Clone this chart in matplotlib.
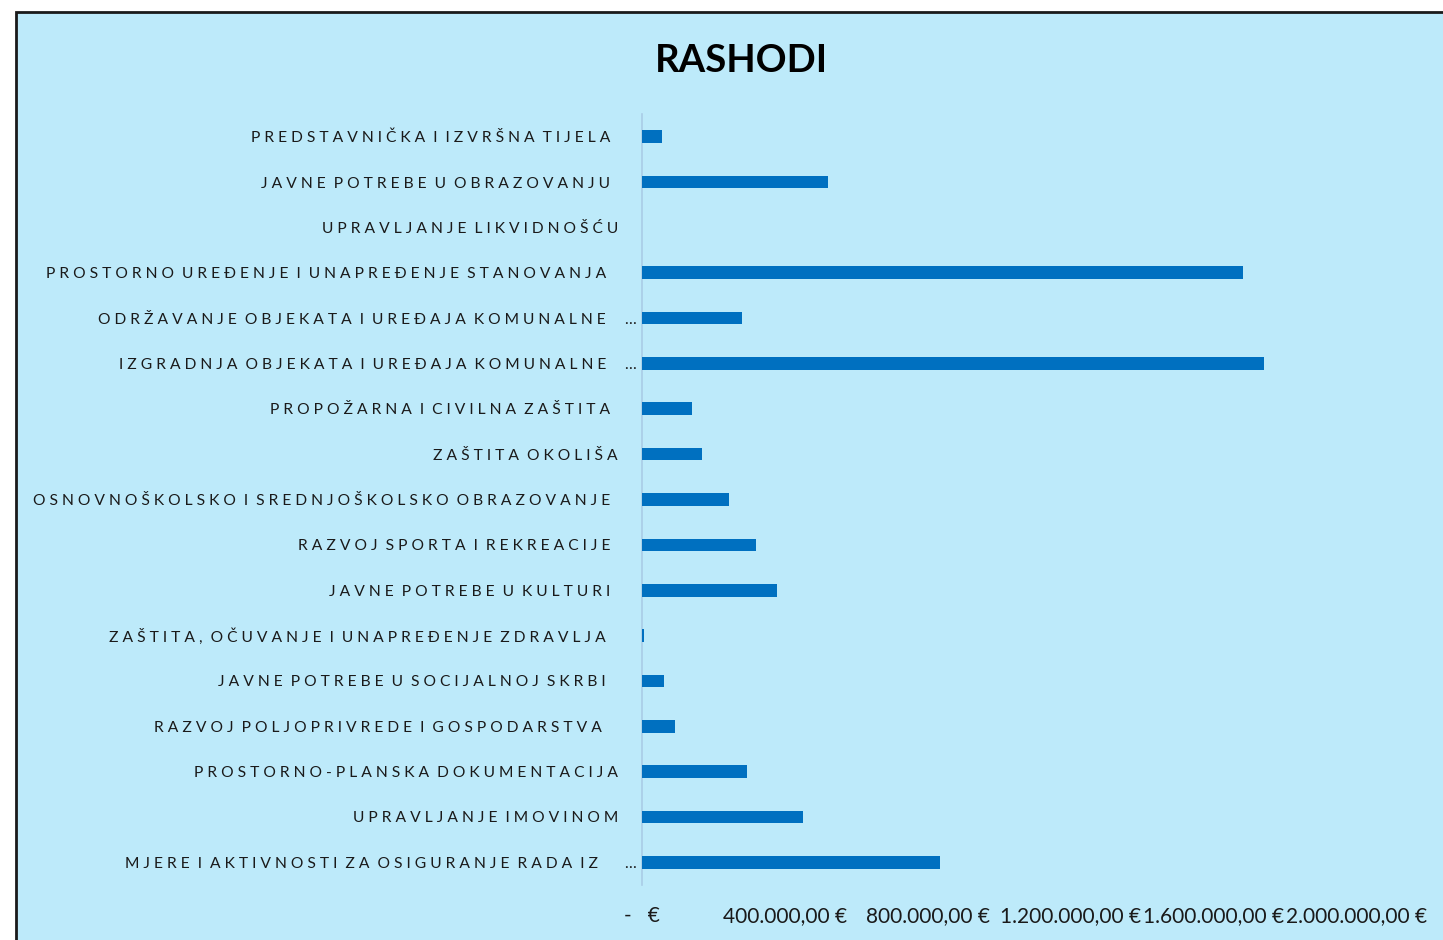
import matplotlib
matplotlib.use("Agg")
import matplotlib.pyplot as plt
import matplotlib.transforms as mtrans
from matplotlib.patches import Rectangle
from matplotlib.ticker import FuncFormatter, FixedLocator

plt.rcParams['font.family'] = ['Lato', 'DejaVu Sans']

title = "RASHODI"
categories = [
    "PREDSTAVNIČKA I IZVRŠNA TIJELA",
    "JAVNE POTREBE U OBRAZOVANJU",
    "UPRAVLJANJE LIKVIDNOŠĆU",
    "PROSTORNO UREĐENJE I UNAPREĐENJE STANOVANJA",
    "ODRŽAVANJE OBJEKATA I UREĐAJA KOMUNALNE …",
    "IZGRADNJA OBJEKATA I UREĐAJA KOMUNALNE …",
    "PROPOŽARNA I CIVILNA ZAŠTITA",
    "ZAŠTITA OKOLIŠA",
    "OSNOVNOŠKOLSKO I SREDNJOŠKOLSKO OBRAZOVANJE",
    "RAZVOJ SPORTA I REKREACIJE",
    "JAVNE POTREBE U KULTURI",
    "ZAŠTITA, OČUVANJE I UNAPREĐENJE ZDRAVLJA",
    "JAVNE POTREBE U SOCIJALNOJ SKRBI",
    "RAZVOJ POLJOPRIVREDE I GOSPODARSTVA",
    "PROSTORNO-PLANSKA DOKUMENTACIJA",
    "UPRAVLJANJE IMOVINOM",
    "MJERE I AKTIVNOSTI ZA OSIGURANJE RADA IZ …",
]
values = [56000, 521000, 0, 1681000, 281000, 1739000, 139000, 167000,
          242000, 318000, 379000, 6000, 61000, 92000, 295000, 449000, 833000]
x_ticks = [0, 400000, 800000, 1200000, 1600000, 2000000]

# layout only: right edge (px) of each category label as placed by the original
label_right_px = [610, 610, 618, 606, 606, 606, 610, 618, 610, 610, 610,
                  606, 606, 602, 618, 618, 598]

bg = '#BDEAFA'
bar_color = '#0070C0'
text_color = '#1a1a1a'

W, H = 1443, 940
fig = plt.figure(figsize=(W / 100, H / 100), dpi=100, facecolor='white')
fig.patches.append(Rectangle((16 / W, -0.05), 1.1, (H - 12) / H + 0.05,
                             transform=fig.transFigure, facecolor=bg,
                             edgecolor='#1a1a1a', linewidth=2, zorder=-5))

ax = fig.add_axes([642 / W, 1 - 885 / H, (1357 - 642) / W, (885 - 114) / H])
ax.set_facecolor('none')
ax.set_zorder(2)


def spaced(s):
    return '  '.join(' '.join(w) for w in s.split(' '))


n = len(categories)
ypos = list(range(n))
ax.barh(ypos, values, height=0.28, color=bar_color, zorder=3)
ax.set_ylim(n - 0.5, -0.5)
ax.set_xlim(0, 2000000)
ax.set_yticks(ypos)
ax.set_yticklabels([])

trans = mtrans.blended_transform_factory(fig.transFigure, ax.transData) + \
    mtrans.ScaledTranslation(0, -1.5 / 100, fig.dpi_scale_trans)
for y, cat, rx in zip(ypos, categories, label_right_px):
    if cat.endswith(' …'):
        base = cat[:-2]
        ax.text(636 / W, y, '…', transform=trans, ha='right', va='center',
                fontsize=11.25, color=text_color, clip_on=False)
    else:
        base = cat
    ax.text(rx / W, y, spaced(base), transform=trans, ha='right', va='center',
            fontsize=11.25, color=text_color, clip_on=False)


def fmt(v, pos):
    if v == 0:
        return '-   €'
    s = f"{v:,.2f}".replace(',', 'X').replace('.', ',').replace('X', '.')
    return s + ' €'


ax.xaxis.set_major_locator(FixedLocator(x_ticks))
ax.xaxis.set_major_formatter(FuncFormatter(fmt))
ax.tick_params(axis='x', length=0, labelsize=15, pad=15, colors=text_color)
ax.tick_params(axis='y', length=0)
for sp in ['top', 'right', 'bottom']:
    ax.spines[sp].set_visible(False)
ax.spines['left'].set_color('#A9CDE6')
ax.spines['left'].set_linewidth(1.2)

fig.text(741 / W, 1 - 61 / H, title, ha='center', va='center',
         fontsize=27.5, fontweight='bold', color='black')

fig.savefig('out.png', dpi=100, facecolor='white')
